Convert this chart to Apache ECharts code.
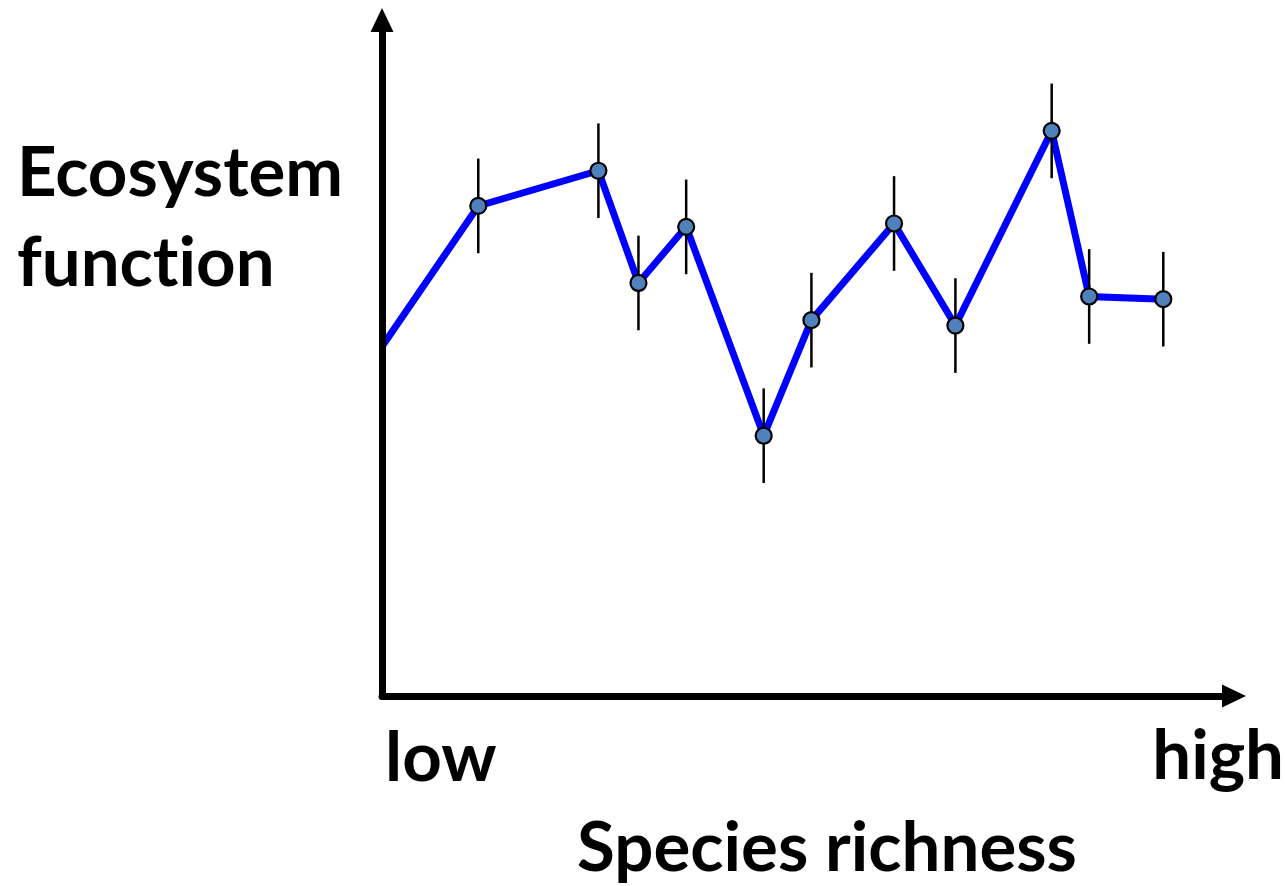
<!DOCTYPE html>
<html>
<head>
<meta charset="utf-8">
<script src="https://cdn.jsdelivr.net/npm/echarts@6/dist/echarts.min.js"></script>
<style>
  html, body { margin: 0; padding: 0; background: #ffffff; }
  #chart { width: 1287px; height: 886px; }
</style>
</head>
<body>
<div id="chart"></div>
<script>
// Species richness (relative position along the axis, 0 = low, 100 = high)
const richness = [11.3, 25.4, 30.1, 35.7, 44.8, 50.4, 60.1, 67.3, 78.6, 83.0, 91.7];
// Ecosystem function (relative level, 0 at the x axis, 100 at the top of the y axis)
const functionLevel = [72.5, 77.7, 61.1, 69.4, 38.5, 55.6, 69.9, 54.8, 83.6, 59.1, 58.7];
// Half-length of each error bar, same units as functionLevel
const errorHalf = [7.0, 7.0, 7.0, 7.0, 7.0, 7.0, 7.0, 7.0, 7.0, 7.0, 7.0];
// Where the curve meets the y axis
const interceptLevel = 51.7;
// Axis end labels and titles (a zero-width non-joiner keeps "ti" from forming a ligature)
const endLabels = ['low', 'high'];
const xTitle = 'Species richness';
const yTitle = ['Ecosystem', 'funct\u200Cion'];

const FONT = 'Lato';
const FONT_SIZE = 69;
const points = richness.map((x, i) => [x, functionLevel[i]]);
const linePoints = [[0, interceptLevel]].concat(points);
const bars = richness.map((x, i) => [x, functionLevel[i] - errorHalf[i], functionLevel[i] + errorHalf[i]]);

const axisLine = {
  show: true,
  symbol: ['none', 'triangle'],
  symbolSize: [23, 24],
  lineStyle: { color: '#000000', width: 7 }
};

const textItem = (text, x, y, align) => ({
  type: 'text',
  x: x,
  y: y,
  style: {
    text: text,
    fill: '#000000',
    font: 'bold ' + FONT_SIZE + 'px ' + FONT,
    align: align,
    verticalAlign: 'middle'
  }
});

const chart = echarts.init(document.getElementById('chart'));
chart.setOption({
  animation: false,
  backgroundColor: '#ffffff',
  grid: { left: 382, right: 53, top: 20, bottom: 190 },
  xAxis: {
    type: 'value', min: 0, max: 100, z: 5,
    axisLine: axisLine,
    axisTick: { show: false }, axisLabel: { show: false }, splitLine: { show: false }
  },
  yAxis: {
    type: 'value', min: 0, max: 100, z: 5,
    axisLine: axisLine,
    axisTick: { show: false }, axisLabel: { show: false }, splitLine: { show: false }
  },
  series: [
    {
      type: 'line',
      data: linePoints,
      showSymbol: false,
      symbol: 'none',
      lineStyle: { color: '#0000ff', width: 7, join: 'miter' },
      z: 2
    },
    {
      type: 'custom',
      data: bars,
      encode: { x: 0, y: [1, 2] },
      renderItem: function (params, api) {
        const lo = api.coord([api.value(0), api.value(1)]);
        const hi = api.coord([api.value(0), api.value(2)]);
        return {
          type: 'line',
          shape: { x1: lo[0], y1: lo[1], x2: hi[0], y2: hi[1] },
          style: { stroke: '#000000', lineWidth: 2.5 }
        };
      },
      z: 3
    },
    {
      type: 'scatter',
      data: points,
      symbol: 'circle',
      symbolSize: 16,
      itemStyle: { color: '#4f81bd', borderColor: '#000000', borderWidth: 2.2, opacity: 1 },
      z: 4
    }
  ],
  graphic: [
    textItem(yTitle[0], 17, 174, 'left'),
    textItem(yTitle[1], 17, 264, 'left'),
    textItem(endLabels[0], 385, 759, 'left'),
    textItem(endLabels[1], 1284, 757, 'right'),
    textItem(xTitle, 827, 849, 'center')
  ]
});
</script>
</body>
</html>
